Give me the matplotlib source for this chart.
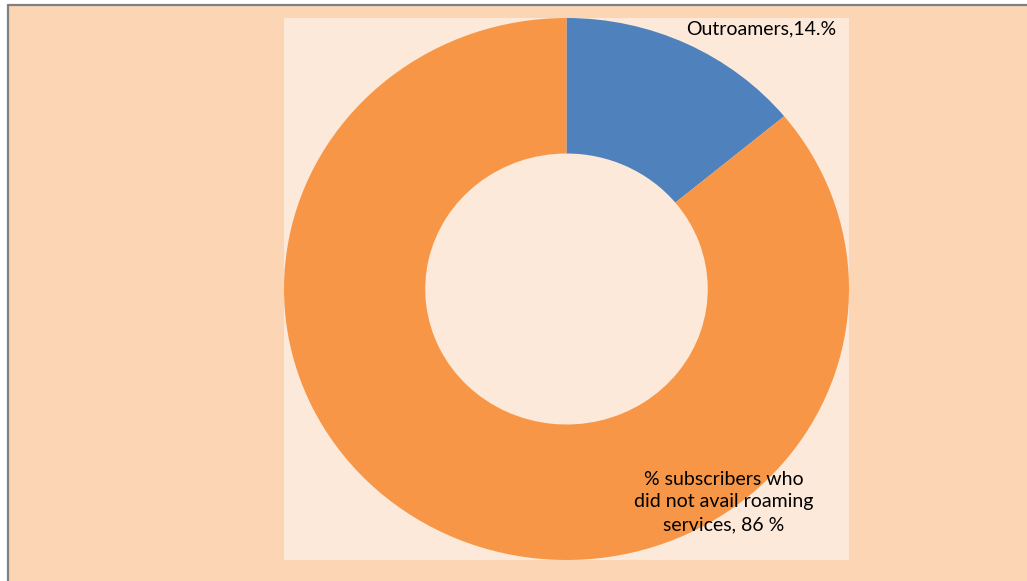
import matplotlib.pyplot as plt
from matplotlib.patches import Rectangle

# data
labels = ["Outroamers,14.%", "% subscribers who\ndid not avail roaming\nservices, 86 %"]
values = [14, 86]
colors = ["#4F81BD", "#F79646"]

W, H = 1027, 581
fig = plt.figure(figsize=(W / 100, H / 100), dpi=100)
fig.patch.set_facecolor("white")

# outer chart area with grey border on top and left
bg = fig.add_axes([0, 0, 1, 1])
bg.set_xlim(0, W)
bg.set_ylim(H, 0)
bg.axis("off")
bg.add_patch(Rectangle((8, 5), W, H, facecolor="#FCD5B5", edgecolor="none"))
bg.plot([8, W], [4.5, 4.5], color="#808080", lw=1.6, solid_capstyle="butt")
bg.plot([7.5, 7.5], [4, H], color="#808080", lw=1.6, solid_capstyle="butt")

# plot area
x0, x1, y0, y1 = 284, 849, 18, 560
ax = fig.add_axes([x0 / W, 1 - y1 / H, (x1 - x0) / W, (y1 - y0) / H])
ax.pie(values, colors=colors, startangle=90, counterclock=False, radius=1,
       wedgeprops=dict(width=0.5, edgecolor="none"))
ax.set_aspect("auto")
ax.set_xlim(-1, 1)
ax.set_ylim(-1, 1)
ax.set_frame_on(True)
ax.set_facecolor("#FDE9D9")
ax.set_xticks([])
ax.set_yticks([])
for s in ax.spines.values():
    s.set_visible(False)

font = ["Lato", "DejaVu Sans"]
fig.text(761 / W, 1 - 29 / H, labels[0], ha="center", va="center",
         fontsize=14, family=font, color="black")
fig.text(724 / W, 1 - 502 / H, labels[1], ha="center", va="center",
         fontsize=14, family=font, color="black", linespacing=1.4)

fig.savefig("out.png", dpi=100, facecolor=fig.get_facecolor())
